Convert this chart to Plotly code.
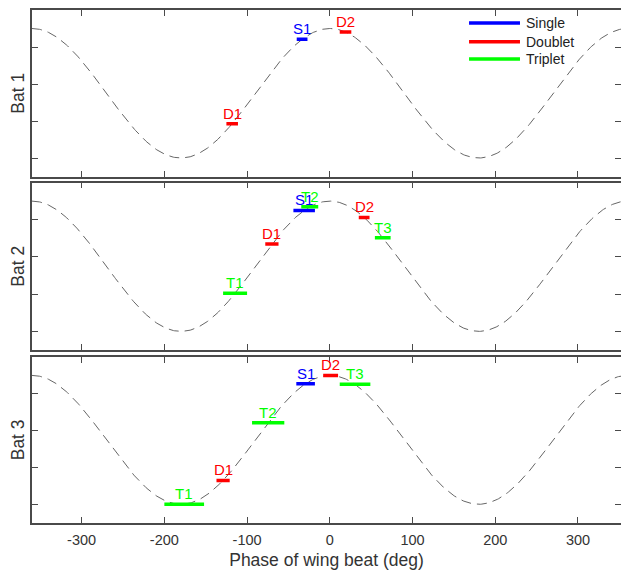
import numpy as np
import plotly.graph_objects as go
from plotly.subplots import make_subplots

# ---- data ---------------------------------------------------------------
bat_names = ["Bat 1", "Bat 2", "Bat 3"]
call_types = ["Single", "Doublet", "Triplet"]
type_colors = {"Single": "#0000ff", "Doublet": "#ff0000", "Triplet": "#00ff00"}

# call emission windows per bat: label, call type, start / end phase (deg)
bat1_labels = ["S1", "D1", "D2"]
bat1_types = ["Single", "Doublet", "Doublet"]
bat1_start = [-40, -125, 12]
bat1_end = [-27, -111, 26]

bat2_labels = ["S1", "D1", "D2", "T1", "T2", "T3"]
bat2_types = ["Single", "Doublet", "Doublet", "Triplet", "Triplet", "Triplet"]
bat2_start = [-44, -78, 35, -129, -34.5, 54.5]
bat2_end = [-18, -62, 48, -100, -14, 73.5]

bat3_labels = ["S1", "D1", "D2", "T1", "T2", "T3"]
bat3_types = ["Single", "Doublet", "Doublet", "Triplet", "Triplet", "Triplet"]
bat3_start = [-40.5, -137, -8, -200, -94, 12]
bat3_end = [-18, -121, 10, -152, -55, 49]

x_ticks = [-300, -200, -100, 0, 100, 200, 300]
y_ticks = [0, 1, 2, 3]

# wing-beat reference: cosine of phase, scaled into the panel's units
WING_HALF_AMPLITUDE = 1.75


def wing_position(phase_deg):
    return WING_HALF_AMPLITUDE * (1 + np.cos(np.radians(phase_deg)))


phase_grid = np.arange(-360, 361, 1)

bats = [
    (bat1_labels, bat1_types, bat1_start, bat1_end),
    (bat2_labels, bat2_types, bat2_start, bat2_end),
    (bat3_labels, bat3_types, bat3_start, bat3_end),
]

# ---- figure -------------------------------------------------------------
W, H = 621, 574
fig = make_subplots(rows=3, cols=1)

FONT = "Liberation Sans, Arial, sans-serif"
AXIS_COLOR = "#4a4a4a"
TEXT_COLOR = "#333333"

annotations = []
for row, (labels, types, starts, ends) in enumerate(bats, start=1):
    # dashed wing-beat curve
    fig.add_trace(
        go.Scatter(
            x=phase_grid, y=wing_position(phase_grid), mode="lines",
            line=dict(color="#666666", width=1, dash="10px,6px"),
            showlegend=False, hoverinfo="skip",
        ),
        row=row, col=1,
    )
    # call windows, drawn singles first, then doublets, then triplets
    for ctype in call_types:
        xs, ys = [], []
        for lab, t, s, e in zip(labels, types, starts, ends):
            if t != ctype:
                continue
            yc = float(wing_position((s + e) / 2))
            xs += [s, e, None]
            ys += [yc, yc, None]
        if xs:
            fig.add_trace(
                go.Scatter(
                    x=xs, y=ys, mode="lines",
                    line=dict(color=type_colors[ctype], width=3.5),
                    showlegend=False, name=ctype,
                ),
                row=row, col=1,
            )
    for ctype in call_types:
        for lab, t, s, e in zip(labels, types, starts, ends):
            if t != ctype:
                continue
            xc = (s + e) / 2
            annotations.append(dict(
                x=xc, y=float(wing_position(xc)),
                xref=f"x{row if row > 1 else ''}", yref=f"y{row if row > 1 else ''}",
                text=lab, showarrow=False, xanchor="center", yanchor="bottom",
                yshift=1, borderpad=0,
                font=dict(family=FONT, size=15, color=type_colors[t]),
            ))

# legend, drawn inside the top panel
legend_rows = [0.922, 0.810, 0.706]
shapes = []
for ctype, ly in zip(call_types, legend_rows):
    shapes.append(dict(
        type="line", xref="x domain", yref="y domain",
        x0=0.742, x1=0.8285, y0=ly, y1=ly,
        line=dict(color=type_colors[ctype], width=3.5),
    ))
    annotations.append(dict(
        x=0.8353, y=ly, xref="x domain", yref="y domain",
        text=ctype, showarrow=False, xanchor="left", yanchor="middle",
        font=dict(family=FONT, size=14, color="#222222"),
    ))

domains = [
    [1 - 176.5 / H, 1 - 10 / H],
    [1 - 350 / H, 1 - 182.5 / H],
    [1 - 522.7 / H, 1 - 357 / H],
]

for row in range(1, 4):
    sfx = "" if row == 1 else str(row)
    fig.layout[f"yaxis{sfx}"].update(
        domain=domains[row - 1], range=[-0.5, 4],
        tickvals=y_ticks, showticklabels=False,
        ticks="inside", ticklen=6, tickwidth=1, tickcolor=AXIS_COLOR,
        showline=True, linecolor=AXIS_COLOR, linewidth=1.5, mirror="ticks",
        showgrid=False, zeroline=False,
        title=dict(text=bat_names[row - 1], font=dict(family=FONT, size=17.5, color=TEXT_COLOR), standoff=1),
    )
    fig.layout[f"xaxis{sfx}"].update(
        range=[-360, 352], tickvals=x_ticks, ticktext=[str(v) for v in x_ticks],
        showticklabels=(row == 3),
        ticks="inside", ticklen=6, tickwidth=1, tickcolor=AXIS_COLOR,
        showline=True, linecolor=AXIS_COLOR, linewidth=1.5, mirror="ticks",
        showgrid=False, zeroline=False,
        tickfont=dict(family=FONT, size=14.5, color=TEXT_COLOR),
    )

fig.layout.xaxis3.ticklabelstandoff = 3
fig.layout.xaxis3.title = dict(
    text="Phase of wing beat (deg)", font=dict(family=FONT, size=17.5, color=TEXT_COLOR),
    standoff=7,
)

fig.update_layout(
    width=W, height=H,
    margin=dict(l=32, r=0, t=0, b=0, autoexpand=False),
    paper_bgcolor="white", plot_bgcolor="white",
    showlegend=False,
    annotations=annotations, shapes=shapes,
)

fig.write_html("out.html")
